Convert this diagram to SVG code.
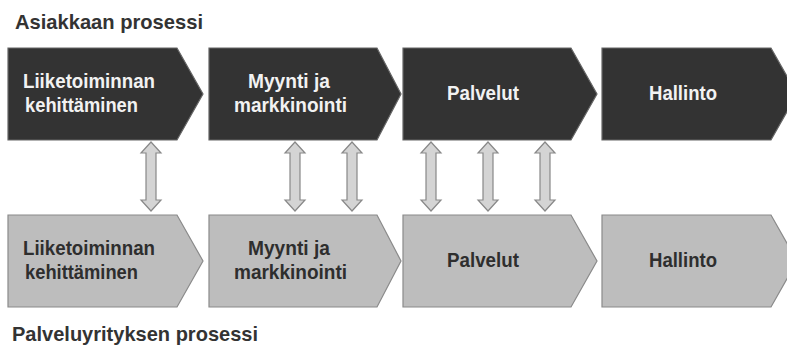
<svg xmlns="http://www.w3.org/2000/svg" xmlns:xlink="http://www.w3.org/1999/xlink" width="787" height="347" viewBox="0 0 787 347">
<style>
.title{font-family:"Liberation Sans",Arial,sans-serif;font-weight:bold;font-size:21px;fill:#333333}
.dark{fill:#333333;stroke:#666666;stroke-width:1.2}
.light{fill:#bdbdbd;stroke:#8a8a8a;stroke-width:1.2}
.lbl{font-family:"Liberation Sans",Arial,sans-serif;font-weight:bold;font-size:21px}
.w{fill:#f2f2f2}
.k{fill:#2e2e2e}
.arr{fill:#d4d4d4;stroke:#888888;stroke-width:1.2;stroke-linejoin:miter}
</style>
<defs>
<path id="dblarrow" class="arr" d="M0,142 L10,153 L5,153 L5,200 L10,200 L0,211 L-10,200 L-5,200 L-5,153 L-10,153 Z"/>
</defs>
<rect x="0" y="0" width="787" height="347" fill="#ffffff"/>
<text class="title" x="15" y="29" textLength="188" lengthAdjust="spacingAndGlyphs">Asiakkaan prosessi</text>
<text class="title" x="12" y="341" textLength="246" lengthAdjust="spacingAndGlyphs">Palveluyrityksen prosessi</text>

<g id="top-liiketoiminta">
<path class="dark" d="M8,48 L177,48 L203,94 L177,140 L8,140 Z"/>
<text class="lbl w" x="23" y="88" textLength="132" lengthAdjust="spacingAndGlyphs">Liiketoiminnan</text>
<text class="lbl w" x="25" y="112" textLength="113" lengthAdjust="spacingAndGlyphs">kehittäminen</text>
</g>
<g id="top-myynti">
<path class="dark" d="M209,48 L377,48 L401,94 L377,140 L209,140 Z"/>
<text class="lbl w" x="248" y="88" textLength="82" lengthAdjust="spacingAndGlyphs">Myynti ja</text>
<text class="lbl w" x="234" y="112" textLength="113" lengthAdjust="spacingAndGlyphs">markkinointi</text>
</g>
<g id="top-palvelut">
<path class="dark" d="M403,48 L571,48 L597,94 L571,140 L403,140 Z"/>
<text class="lbl w" x="447" y="100" textLength="72" lengthAdjust="spacingAndGlyphs">Palvelut</text>
</g>
<g id="top-hallinto">
<path class="dark" d="M602,48 L771,48 L797,94 L771,140 L602,140 Z"/>
<text class="lbl w" x="649" y="100" textLength="68" lengthAdjust="spacingAndGlyphs">Hallinto</text>
</g>

<g id="bottom-liiketoiminta">
<path class="light" d="M8,215 L177,215 L203,261 L177,307 L8,307 Z"/>
<text class="lbl k" x="23" y="255" textLength="132" lengthAdjust="spacingAndGlyphs">Liiketoiminnan</text>
<text class="lbl k" x="25" y="279" textLength="113" lengthAdjust="spacingAndGlyphs">kehittäminen</text>
</g>
<g id="bottom-myynti">
<path class="light" d="M209,215 L377,215 L401,261 L377,307 L209,307 Z"/>
<text class="lbl k" x="248" y="255" textLength="82" lengthAdjust="spacingAndGlyphs">Myynti ja</text>
<text class="lbl k" x="234" y="279" textLength="113" lengthAdjust="spacingAndGlyphs">markkinointi</text>
</g>
<g id="bottom-palvelut">
<path class="light" d="M403,215 L571,215 L597,261 L571,307 L403,307 Z"/>
<text class="lbl k" x="447" y="267" textLength="72" lengthAdjust="spacingAndGlyphs">Palvelut</text>
</g>
<g id="bottom-hallinto">
<path class="light" d="M602,215 L771,215 L797,261 L771,307 L602,307 Z"/>
<text class="lbl k" x="649" y="267" textLength="68" lengthAdjust="spacingAndGlyphs">Hallinto</text>
</g>

<g id="connectors">
<use xlink:href="#dblarrow" href="#dblarrow" x="151" y="0"/>
<use xlink:href="#dblarrow" href="#dblarrow" x="295" y="0"/>
<use xlink:href="#dblarrow" href="#dblarrow" x="352" y="0"/>
<use xlink:href="#dblarrow" href="#dblarrow" x="431" y="0"/>
<use xlink:href="#dblarrow" href="#dblarrow" x="488" y="0"/>
<use xlink:href="#dblarrow" href="#dblarrow" x="545" y="0"/>
</g>
</svg>
